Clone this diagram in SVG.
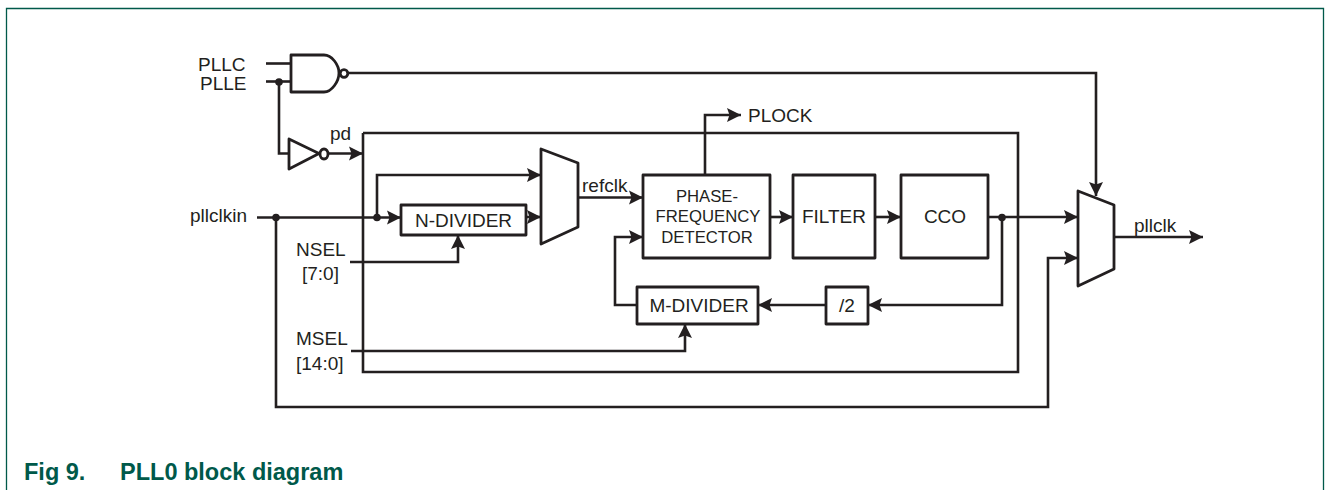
<svg xmlns="http://www.w3.org/2000/svg" width="1330" height="490" viewBox="0 0 1330 490">
<style>
.l{fill:none;stroke:#231f20;stroke-width:2.600;stroke-linejoin:miter}
.b{fill:#fff;stroke:#231f20;stroke-width:2.800;stroke-linejoin:round}
.t{font-family:"Liberation Sans",Arial,sans-serif;font-size:19px;fill:#231f20}
.m{text-anchor:middle}
.p{font-size:16.700px}
.c{font-family:"Liberation Sans",Arial,sans-serif;font-size:23.500px;font-weight:bold;fill:#00594a}
.d{fill:#231f20}
</style>
<defs>
<marker id="a" markerUnits="userSpaceOnUse" markerWidth="16" markerHeight="18" refX="14" refY="9" orient="auto" viewBox="0 0 16 18"><path d="M0 2 L14 9 L0 16 L2.500 9Z" fill="#231f20"/></marker>
</defs>
<path d="M6.500 490V8.500H1323.500V490" fill="none" stroke="#00594a" stroke-width="1.300"/>
<g id="connectors">
<path class="l" d="M363 133H1018V372H363V133"/>
<path class="l" d="M266 63.500H291"/>
<path class="l" d="M266 81.500H291"/>
<path class="l" d="M279 82V153.500H289"/>
<path class="l" marker-end="url(#a)" d="M328 153.500H363"/>
<path class="l" marker-end="url(#a)" d="M348 73H1096V196"/>
<path class="l" marker-end="url(#a)" d="M257 217.500H401"/>
<path class="l" marker-end="url(#a)" d="M377 217V175H541"/>
<path class="l" marker-end="url(#a)" d="M276 217V407H1048V258H1078"/>
<path class="l" marker-end="url(#a)" d="M526 217H541"/>
<path class="l" marker-end="url(#a)" d="M578 197.500H643"/>
<path class="l" marker-end="url(#a)" d="M705 175V115H741"/>
<path class="l" marker-end="url(#a)" d="M770 217H793"/>
<path class="l" marker-end="url(#a)" d="M875 217H901"/>
<path class="l" marker-end="url(#a)" d="M988 217H1078"/>
<path class="l" marker-end="url(#a)" d="M1002 217V305H868"/>
<path class="l" marker-end="url(#a)" d="M826 305H758"/>
<path class="l" marker-end="url(#a)" d="M637 305H615V237H643"/>
<path class="l" marker-end="url(#a)" d="M350 262H458V235"/>
<path class="l" marker-end="url(#a)" d="M351 351H685V324"/>
<path class="l" marker-end="url(#a)" d="M1114 237H1203"/>
<circle class="d" cx="279" cy="82" r="3.800"/>
<circle class="d" cx="276" cy="217.500" r="3.800"/>
<circle class="d" cx="377" cy="217.500" r="3.800"/>
<circle class="d" cx="1002" cy="217.500" r="3.800"/>
</g>
<g id="nand"><path class="b" d="M291 55H324C332 55 339 65 339 73C339 81 332 92 324 92H291Z"/><circle class="b" cx="344" cy="73.500" r="3.800"/></g>
<g id="inverter"><path class="b" d="M289 139L319 153.500L289 169Z"/><ellipse class="b" cx="324" cy="154" rx="4" ry="5"/></g>
<g id="ndiv"><rect class="b" x="401" y="205" width="125" height="30"/><text class="t m" x="463.500" y="227">N-DIVIDER</text></g>
<g id="mux1"><path class="b" d="M541 149L578 163V227L541 244Z"/></g>
<g id="pfd"><rect class="b" x="643" y="175" width="127" height="83"/><text class="t m p" x="707" y="202">PHASE-</text><text class="t m p" x="708" y="222">FREQUENCY</text><text class="t m p" x="707" y="243">DETECTOR</text></g>
<g id="filter"><rect class="b" x="793" y="175" width="82" height="83"/><text class="t m" x="834" y="223">FILTER</text></g>
<g id="cco"><rect class="b" x="901" y="175" width="87" height="83"/><text class="t m" x="945" y="223">CCO</text></g>
<g id="div2"><rect class="b" x="826" y="287" width="42" height="37"/><text class="t m" x="847" y="312">/2</text></g>
<g id="mdiv"><rect class="b" x="637" y="287" width="121" height="37"/><text class="t m" x="699" y="312">M-DIVIDER</text></g>
<g id="mux2"><path class="b" d="M1078 191L1114 205V269L1078 286Z"/></g>
<g id="labels">
<text class="t" x="198" y="71">PLLC</text>
<text class="t" x="200" y="90">PLLE</text>
<text class="t" x="330" y="140">pd</text>
<text class="t" x="190" y="222">pllclkin</text>
<text class="t" x="296" y="256">NSEL</text>
<text class="t" x="302" y="280">[7:0]</text>
<text class="t" x="296" y="345">MSEL</text>
<text class="t" x="296" y="370">[14:0]</text>
<text class="t" x="582" y="192">refclk</text>
<text class="t" x="748" y="122">PLOCK</text>
<text class="t" x="1134" y="232">pllclk</text>
<text class="c" x="24" y="480">Fig 9.</text>
<text class="c" x="120" y="480">PLL0 block diagram</text>
</g>
</svg>
